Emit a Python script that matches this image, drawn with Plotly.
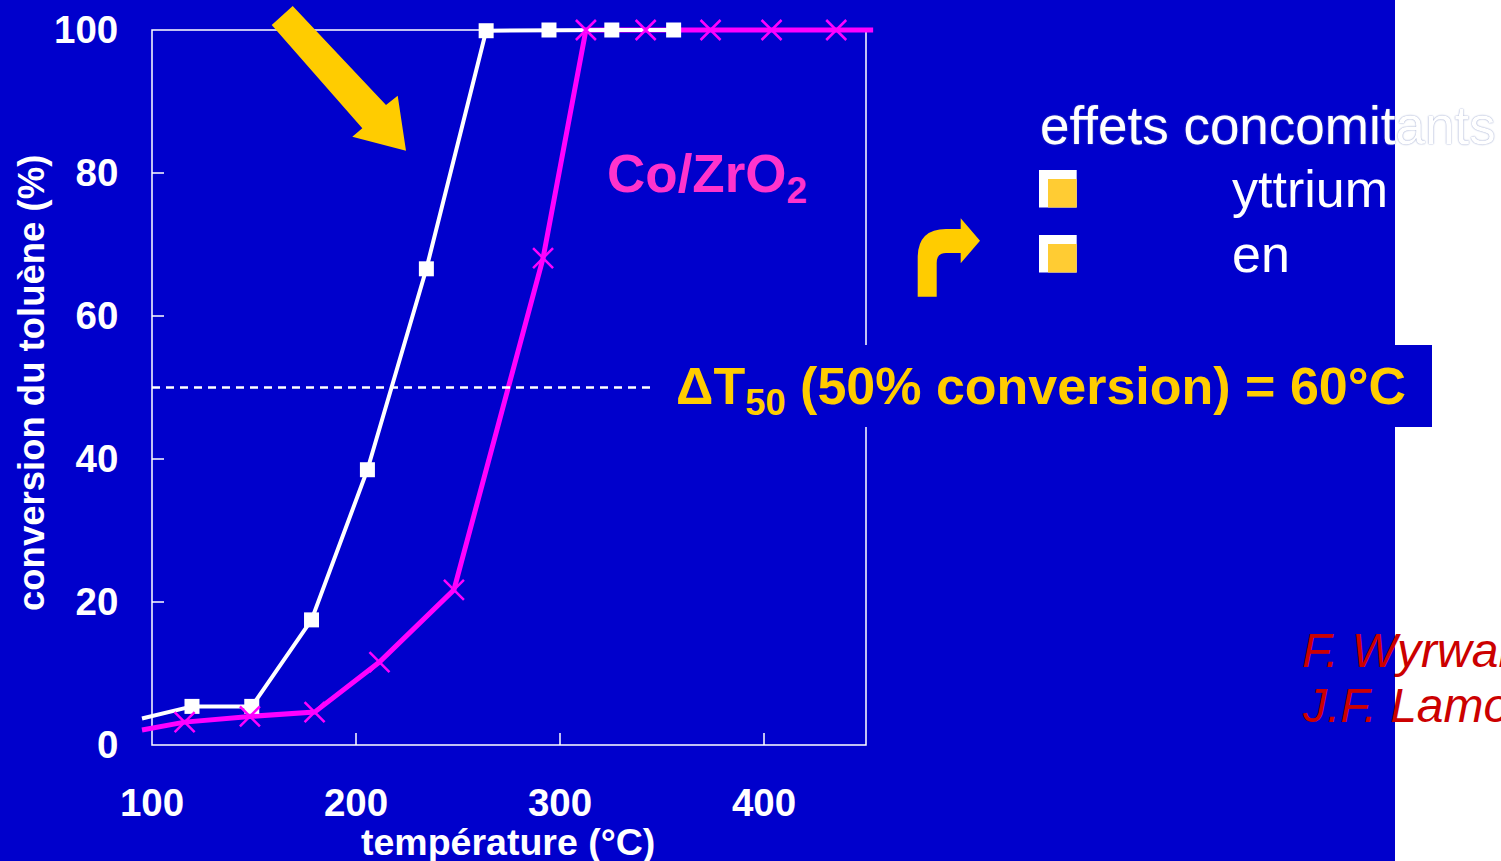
import plotly.graph_objects as go

# Toluene conversion vs temperature
temp_ref = [95.1, 119.6, 148.9, 178.2, 205.6, 234.5, 263.8, 294.6, 325.4, 355.7]
conv_ref = [3.7, 5.4, 5.4, 17.5, 38.5, 66.6, 99.9, 100, 100, 100]

temp_zr = [95.1, 116.0, 148.0, 179.7, 211.5, 248.0, 291.7, 312.7, 342.0, 373.8, 403.7, 435.4, 453.5]
conv_zr = [2.1, 3.2, 4.0, 4.6, 11.6, 21.7, 68.1, 100, 100, 100, 100, 100, 100]

x_ticks = [100, 200, 300, 400]
y_ticks = [0, 20, 40, 60, 80, 100]
t50_level = 50
t50_span = [100, 350]

W, H = 1501, 861
ML, MR, MT, MB = 140, 623, 20, 106
PW, PH = W - ML - MR, H - MT - MB
X0, X1 = 100, 450
SX = 714 / (X1 - X0)
SY = 7.15
XR = [X0 - 12 / SX, X1 + 12 / SX]
YR = [-10 / SY, 100 + 10 / SY]

BLUE = "#0000CC"
YELLOW = "#FFCC00"
MAGENTA = "#FF00FF"
FONT = "Liberation Sans"


def px(x):
    return (x - ML) / PW


def py(y):
    return (H - MB - y) / PH


def path(segments):
    # each segment: (command, [points]) -> one command letter per group
    out = []
    for cmd, pts in segments:
        coords = " ".join(f"{px(a):.5f},{py(b):.5f}" for a, b in pts)
        out.append(f"{cmd} {coords}")
    return " ".join(out) + " Z"


def polyline(points):
    return [("M", [points[0]])] + [("L", [p]) for p in points[1:]]


fig = go.Figure()

# magenta line underneath
fig.add_trace(go.Scatter(x=temp_zr, y=conv_zr, mode="lines",
                         line=dict(color=MAGENTA, width=5), showlegend=False,
                         hoverinfo="skip"))
# white series line
fig.add_trace(go.Scatter(x=temp_ref, y=conv_ref, mode="lines",
                         line=dict(color="white", width=4), showlegend=False))
# white square markers
fig.add_trace(go.Scatter(x=temp_ref[1:], y=conv_ref[1:], mode="markers",
                         marker=dict(symbol="square", color="white", size=15, opacity=1),
                         cliponaxis=False, showlegend=False))
# magenta cross markers on top
fig.add_trace(go.Scatter(x=temp_zr[1:-1], y=conv_zr[1:-1], mode="markers",
                         marker=dict(symbol="x-thin", size=20,
                                     line=dict(color=MAGENTA, width=2.5)),
                         cliponaxis=False, showlegend=False))
# 50 % conversion reference
fig.add_trace(go.Scatter(x=t50_span, y=[t50_level, t50_level], mode="lines",
                         line=dict(color="white", width=2.5, dash="8px,6px"),
                         showlegend=False, hoverinfo="skip"))

shapes = []
# slide background
shapes.append(dict(type="rect", xref="paper", yref="paper", x0=px(0), x1=px(1395),
                   y0=py(H), y1=py(0), fillcolor=BLUE, line_width=0, layer="below"))
# frame and inward ticks
shapes.append(dict(type="rect", xref="x", yref="y", x0=X0, x1=X1, y0=0, y1=100,
                   line=dict(color="white", width=1.5), layer="below"))
for t in x_ticks[1:]:
    shapes.append(dict(type="line", xref="x", yref="y", x0=t, x1=t, y0=0, y1=12 / SY,
                       line=dict(color="white", width=1.5), layer="below"))
for t in y_ticks[1:-1]:
    shapes.append(dict(type="line", xref="x", yref="y", x0=X0, x1=X0 + 12 / SX, y0=t, y1=t,
                       line=dict(color="white", width=1.5), layer="below"))

# big yellow arrow
shapes.append(dict(type="path", xref="paper", yref="paper", layer="above",
                   path=path(polyline([(271.7, 25), (292.7, 6), (386, 105), (397.7, 95.7),
                                       (406, 150.7), (352.3, 136.7), (362.3, 128.3)])),
                   fillcolor=YELLOW, line_width=0))
# bent arrow
shapes.append(dict(type="path", xref="paper", yref="paper", layer="above",
                   path=path([("M", [(917.7, 296.7)]), ("L", [(917.7, 258)]),
                              ("Q", [(917.7, 229), (946, 229)]),
                              ("L", [(960.7, 229)]), ("L", [(960.7, 218.3)]),
                              ("L", [(980, 240.7)]), ("L", [(960.7, 263.3)]),
                              ("L", [(960.7, 253)]), ("L", [(946, 253)]),
                              ("Q", [(936.7, 253), (936.7, 263)]),
                              ("L", [(936.7, 296.7)])]),
                   fillcolor=YELLOW, line_width=0))
# bullets
for top in (170, 235):
    shapes.append(dict(type="rect", xref="paper", yref="paper", layer="above",
                       x0=px(1039), x1=px(1076.7), y0=py(top + 37.5), y1=py(top),
                       fillcolor="white", line_width=0))
    shapes.append(dict(type="rect", xref="paper", yref="paper", layer="above",
                       x0=px(1048), x1=px(1076.7), y0=py(top + 37.5), y1=py(top + 9),
                       fillcolor="#FFCC33", line_width=0))
# label box for delta T50
shapes.append(dict(type="rect", xref="paper", yref="paper", layer="above",
                   x0=px(655), x1=px(1432), y0=py(427), y1=py(345),
                   fillcolor=BLUE, line_width=0))


def note(text, x, y, size, color, bold=False, italic=False, anchor="left", **kw):
    return dict(text=text, xref="paper", yref="paper", x=px(x), y=py(y),
                xanchor=anchor, yanchor="middle", showarrow=False,
                font=dict(family=FONT, size=size, color=color,
                          weight="bold" if bold else "normal",
                          style="italic" if italic else "normal", **kw))


annotations = [
    note("température (°C)", 508, 842, 37.5, "white", bold=True, anchor="center"),
    dict(text="conversion du toluène (%)", xref="paper", yref="paper",
         x=px(31), y=py(383), textangle=-90, showarrow=False,
         xanchor="center", yanchor="middle",
         font=dict(family=FONT, size=36.5, color="white", weight="bold")),
    note("Co/ZrO<sub>2</sub>", 605, 178, 53, "#FF33CC", bold=True),
    note("ΔT<sub>50</sub> (50% conversion) = 60°C", 674, 390, 52, YELLOW, bold=True),
    note("effets concomitants", 1038, 125, 53, "white", shadow="0px 0px 1.5px #7080b8"),
    note("yttrium", 1230, 189, 52, "white"),
    note("en", 1230, 254, 52, "white"),
    note("F. Wyrwalski", 1300, 650, 48, "#CC0000", italic=True),
    note("J.F. Lamonier", 1300, 705, 48, "#CC0000", italic=True),
]

tickfont = dict(family=FONT, size=38.5, color="white", weight="bold")
fig.update_layout(
    width=W, height=H,
    margin=dict(l=ML, r=MR, t=MT, b=MB, pad=0),
    paper_bgcolor="white", plot_bgcolor="rgba(0,0,0,0)",
    shapes=shapes, annotations=annotations,
    xaxis=dict(range=XR, tickvals=x_ticks, showgrid=False, zeroline=False,
               showline=False, ticks="outside", ticklen=14,
               tickcolor="rgba(0,0,0,0)", tickfont=tickfont, automargin=False),
    yaxis=dict(range=YR, tickvals=y_ticks, showgrid=False, zeroline=False,
               showline=False, ticks="outside", ticklen=13,
               tickcolor="rgba(0,0,0,0)", tickfont=tickfont, automargin=False),
)

fig.write_html("out.html")
